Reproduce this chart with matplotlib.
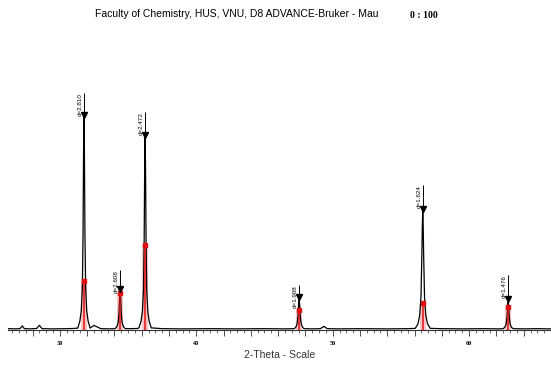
import matplotlib
matplotlib.use("Agg")
import matplotlib.pyplot as plt
from matplotlib.ticker import MultipleLocator

two_theta = [
    26.2, 26.8, 27.1, 27.25, 27.4, 27.8, 28.3, 28.5, 28.7, 29.5, 30.5, 31.0,
    31.32, 31.47, 31.57, 31.65, 31.70, 31.74, 31.77, 31.80, 31.84, 31.89, 31.97, 32.07, 32.22,
    32.5, 33.0, 33.6,
    34.05, 34.17, 34.27, 34.34, 34.38, 34.42, 34.46, 34.50, 34.57, 34.67, 34.79,
    35.2, 35.7,
    35.80, 35.95, 36.05, 36.13, 36.18, 36.22, 36.25, 36.28, 36.32, 36.37, 36.45, 36.55, 36.70,
    37.5, 39.0, 41.0, 43.0, 45.0, 46.5,
    47.17, 47.29, 47.39, 47.46, 47.50, 47.54, 47.58, 47.62, 47.69, 47.79, 47.91,
    48.5, 49.1, 49.35, 49.6, 50.5, 52.0, 54.0, 55.5,
    56.05, 56.25, 56.38, 56.47, 56.53, 56.57, 56.60, 56.63, 56.67, 56.73, 56.82, 56.95, 57.15,
    58.0, 59.5, 61.0, 62.2,
    62.49, 62.61, 62.71, 62.78, 62.82, 62.86, 62.90, 62.94, 63.01, 63.11, 63.23,
    64.0, 65.0, 66.0,
]
intensity = [
    12, 10, 14, 40, 12, 10, 14, 45, 12, 10, 12, 14,
    18, 90, 190, 420, 950, 1800, 2120, 1800, 950, 420, 190, 90, 18,
    45, 12, 10,
    12, 30, 70, 170, 320, 380, 320, 170, 70, 30, 12,
    12, 14,
    20, 85, 180, 400, 880, 1650, 1920, 1650, 880, 400, 180, 85, 20,
    12, 10, 12, 10, 12, 10,
    12, 25, 60, 140, 250, 300, 250, 140, 60, 25, 12,
    10, 12, 35, 12, 10, 12, 10, 12,
    15, 60, 150, 330, 720, 1050, 1180, 1050, 720, 330, 150, 60, 15,
    12, 10, 12, 10,
    12, 25, 55, 130, 230, 280, 230, 130, 55, 25, 12,
    10, 12, 10,
]

# reference pattern sticks (ZnO)
ref_pos = [31.77, 34.42, 36.25, 47.54, 56.60, 62.86]
ref_int = [490, 370, 850, 200, 270, 230]

# d-spacing markers
peak_pos = [31.77, 34.42, 36.25, 47.54, 56.60, 62.86]
peak_top = [2120, 380, 1920, 300, 1180, 280]
label_top = [2370, 600, 2180, 450, 1450, 550]
peak_labels = ["d=2.810", "d=2.608", "d=2.472", "d=1.908", "d=1.624", "d=1.476"]

tick_labels = {30: "30", 40: "40", 50: "50", 60: "60"}

fig = plt.figure(figsize=(5.51, 3.77), dpi=100)
ax = fig.add_axes([0.0145, 0.125, 0.9855, 0.77])

# pink bands + red sticks
ax.vlines(ref_pos, 0, ref_int, color="#f8c4c4", lw=4.5, zorder=1)
ax.vlines(ref_pos, 0, ref_int, color="#e01010", lw=1.1, zorder=3)
ax.plot(ref_pos, ref_int, "s", color="#e01010", ms=3.2, zorder=4)

ax.plot(two_theta, intensity, color="black", lw=0.9, zorder=2)

# arrows with d labels
ax.vlines(peak_pos, peak_top, label_top, color="black", lw=0.7, zorder=5)
ax.plot(peak_pos, [t + 30 for t in peak_top], "v", color="black", ms=4, zorder=6)
for x, top, lab in zip(peak_pos, label_top, peak_labels):
    ax.annotate(lab, (x, top), xytext=(-1, 0), textcoords="offset points",
                rotation=90, ha="right", va="top", fontsize=4.5,
                family="Liberation Sans")

ax.set_xlim(26.2, 66.0)
ax.set_ylim(0, 2900)
ax.set_yticks([])
for s in ["left", "right", "top"]:
    ax.spines[s].set_visible(False)
ax.spines["bottom"].set_linewidth(0.8)
ax.spines["bottom"].set_color("#333333")

ax.xaxis.set_minor_locator(MultipleLocator(0.5))
ax.set_xticks(list(range(28, 66, 2)))
ax.set_xticklabels([tick_labels.get(t, "") for t in range(28, 66, 2)],
                   fontsize=4.5, fontweight="bold", family="Liberation Serif")
ax.tick_params(axis="x", which="major", length=4, width=0.6, pad=4, color="#333333")
ax.tick_params(axis="x", which="minor", length=2, width=0.5, color="#333333")

ax.set_xlabel("2-Theta - Scale", fontsize=7.5, color="#333333",
              family="Liberation Sans", labelpad=3)

fig.text(0.172, 0.962, "Faculty of Chemistry, HUS, VNU, D8 ADVANCE-Bruker - Mau",
         fontsize=7.5, family="Liberation Sans", ha="left", va="center")
fig.text(0.745, 0.960, "0 : 100", fontsize=7, family="Liberation Serif",
         fontweight="bold", ha="left", va="center")

fig.savefig("out.png", dpi=100)
